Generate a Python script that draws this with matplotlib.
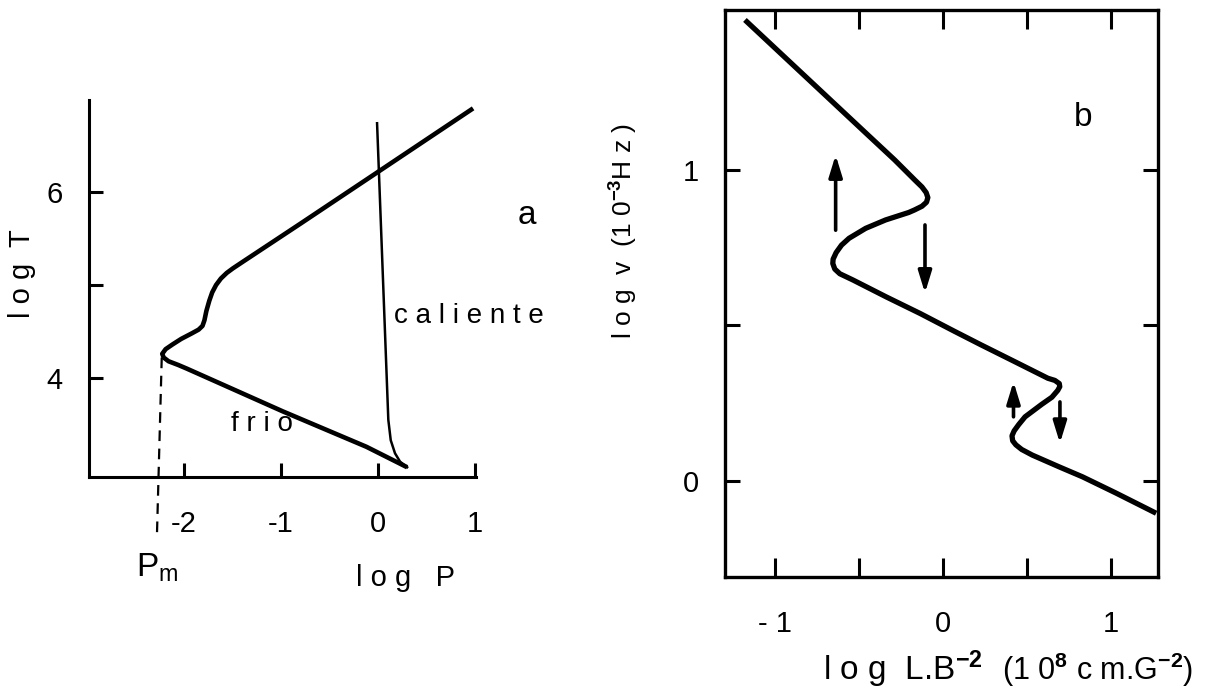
import matplotlib.pyplot as plt
from matplotlib.ticker import FixedLocator

plt.rcParams['font.family'] = ['Liberation Sans', 'DejaVu Sans']
plt.rcParams['mathtext.fontset'] = 'custom'
plt.rcParams['mathtext.rm'] = 'Liberation Sans'
plt.rcParams['mathtext.it'] = 'Liberation Sans'
plt.rcParams['mathtext.bf'] = 'Liberation Sans:bold'

# (a) equilibrium curve in the log P - log T plane (thick line)
eq_logP = [0.98, -0.01, -0.80, -1.40, -1.495, -1.56, -1.62, -1.67, -1.71,
           -1.74, -1.77, -1.79, -1.81, -1.85, -1.92, -2.03, -2.12, -2.19,
           -2.225, -2.21, -2.16, -2.06, -1.97, -0.98, -0.12, 0.30]
eq_logT = [6.90, 6.21, 5.66, 5.246, 5.18, 5.13, 5.07, 5.00, 4.92,
           4.83, 4.72, 4.62, 4.56, 4.52, 4.48, 4.42, 4.36, 4.31,
           4.26, 4.22, 4.18, 4.14, 4.10, 3.64, 3.26, 3.04]

# (a) thin "caliente" line
hot_logP = [-0.01, 0.106, 0.131, 0.175, 0.227, 0.30]
hot_logT = [6.74, 3.55, 3.33, 3.19, 3.10, 3.04]

# (a) minimum pressure marker
pm_logP = [-2.23, -2.28]
pm_logT = [4.22, 2.29]

a_xticks = [-2, -1, 0, 1]
a_xlabels = ['-2', '-1', '0', '1']
a_yticks = [4, 5, 6]
a_ylabels = ['4', '', '6']

# (b) frequency vs L.B^-2 relation
b_logL = [-1.181, -0.469, -0.288, -0.167, -0.125, -0.100, -0.090, -0.098,
          -0.125, -0.170, -0.204, -0.342, -0.461, -0.560, -0.605, -0.637,
          -0.655, -0.657, -0.645, -0.615, -0.537, -0.336, -0.135, 0.065,
          0.225, 0.426, 0.626, 0.668, 0.694, 0.697, 0.685, 0.650, 0.589,
          0.490, 0.452, 0.425, 0.412, 0.416, 0.435, 0.470, 0.533, 0.694,
          0.833, 1.032, 1.272]
b_logv = [1.481, 1.122, 1.031, 0.966, 0.944, 0.926, 0.910, 0.895,
          0.882, 0.870, 0.862, 0.838, 0.811, 0.779, 0.757, 0.733,
          0.712, 0.698, 0.680, 0.665, 0.645, 0.590, 0.537, 0.481,
          0.437, 0.383, 0.329, 0.322, 0.312, 0.302, 0.290, 0.268, 0.245,
          0.205, 0.180, 0.160, 0.144, 0.128, 0.115, 0.100, 0.082, 0.044,
          0.012, -0.040, -0.105]

# (b) jump arrows: x, tail y, head y
arrow_x = [-0.640, -0.107, 0.421, 0.698]
arrow_from = [0.805, 0.822, 0.205, 0.253]
arrow_to = [1.047, 0.603, 0.318, 0.120]

b_xticks = [-1, 0, 1]
b_xlabels = ['- 1', '0', '1']
b_yticks = [0, 1]
b_ylabels = ['0', '1']

W, H = 1218, 694
fig = plt.figure(figsize=(W / 100, H / 100), dpi=100)


def fpos(x, y):
    return x / W, 1 - y / H


# ---- panel a ----
ax1 = fig.add_axes([89 / W, 1 - 477 / H, 387 / W, 377 / H])
ax1.set_xlim(-2.98, 1.01)
ax1.set_ylim(2.935, 6.99)
ax1.plot(eq_logP, eq_logT, color='k', lw=3.3, solid_capstyle='butt',
         solid_joinstyle='round')
ax1.plot(hot_logP, hot_logT, color='k', lw=1.8, solid_joinstyle='round')
ax1.plot(pm_logP, pm_logT, color='k', lw=1.6, dashes=(4.8, 3.4), clip_on=False)

for s in ['top', 'right']:
    ax1.spines[s].set_visible(False)
for s in ['left', 'bottom']:
    ax1.spines[s].set_linewidth(2.2)
ax1.set_xticks(a_xticks)
ax1.set_xticklabels(a_xlabels)
ax1.set_yticks(a_yticks)
ax1.set_yticklabels(a_ylabels)
ax1.tick_params(direction='in', length=10, width=2.2, labelsize=21)
ax1.tick_params(axis='x', pad=24)
ax1.tick_params(axis='y', pad=19)

fig.text(*fpos(22, 274), 'l o g  T', rotation=90, ha='center', va='center', fontsize=21)
fig.text(*fpos(527, 216), 'a', ha='center', va='center', fontsize=24)
fig.text(*fpos(394, 316), 'c a l i e n t e', ha='left', va='center', fontsize=20)
fig.text(*fpos(262, 424), 'f r i o', ha='center', va='center', fontsize=20)
fig.text(*fpos(136, 568), r'P$_{\mathrm{m}}$', ha='left', va='center', fontsize=24)
fig.text(*fpos(406, 578), 'l o g   P', ha='center', va='center', fontsize=21)

# ---- panel b ----
ax2 = fig.add_axes([725 / W, 1 - 577 / H, 432.5 / W, 567 / H])
ax2.set_xlim(-1.30, 1.28)
ax2.set_ylim(-0.310, 1.513)
ax2.plot(b_logL, b_logv, color='k', lw=3.8, solid_capstyle='butt',
         solid_joinstyle='round')

for x, y0, y1 in zip(arrow_x, arrow_from, arrow_to):
    ax2.annotate('', xy=(x, y1), xytext=(x, y0),
                 arrowprops=dict(arrowstyle='-|>,head_width=0.2,head_length=0.65',
                                 mutation_scale=20, lw=2.6, color='k',
                                 shrinkA=0, shrinkB=0))

for s in ax2.spines.values():
    s.set_linewidth(2.4)
ax2.set_xticks(b_xticks)
ax2.set_xticklabels(b_xlabels)
ax2.xaxis.set_minor_locator(FixedLocator([-0.5, 0.5]))
ax2.set_yticks(b_yticks)
ax2.set_yticklabels(b_ylabels)
ax2.yaxis.set_minor_locator(FixedLocator([0.5]))
ax2.tick_params(which='both', direction='in', top=True, right=True,
                width=2.2, labelsize=21)
ax2.tick_params(axis='x', which='both', length=14, pad=24)
ax2.tick_params(axis='y', which='both', length=11, pad=19)

fig.text(*fpos(1083, 117), 'b', ha='center', va='center', fontsize=24)
fig.text(*fpos(624, 231), r'l o g  v  (1 0$^{\mathbf{-3}}$H z )', rotation=90,
         ha='center', va='center', fontsize=19)
fig.text(*fpos(823, 680), r'l o g  L.B$^{\mathbf{-2}}$', ha='left', va='baseline',
         fontsize=24)
fig.text(*fpos(1002, 680), r'(1 0$^{\mathbf{8}}$ c m.G$^{\mathbf{-2}}$)', ha='left',
         va='baseline', fontsize=22)

fig.savefig('out.png', dpi=100)
